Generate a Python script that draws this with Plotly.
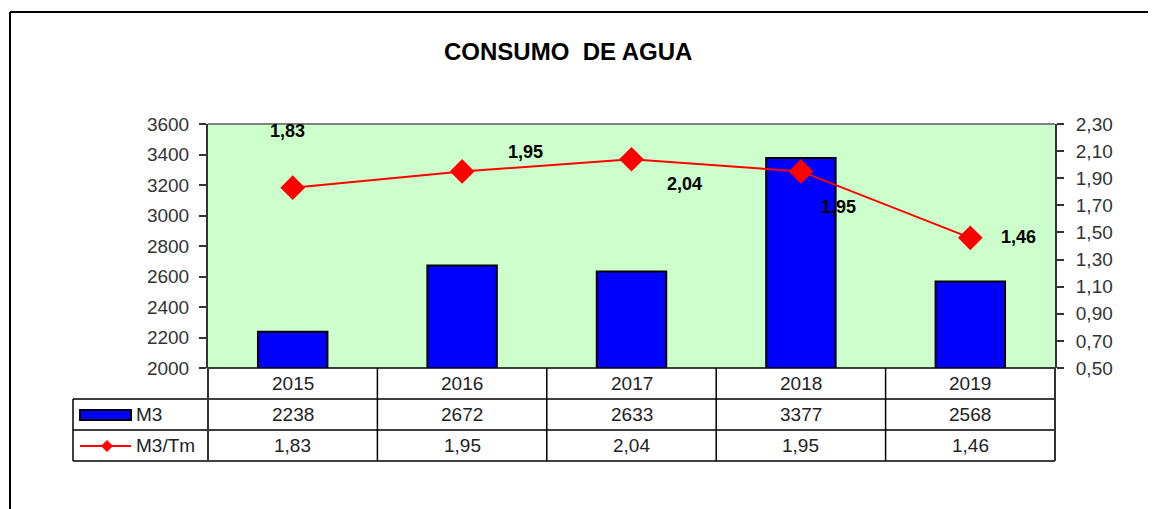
import plotly.graph_objects as go

# ---- data ----
years = ["2015", "2016", "2017", "2018", "2019"]
m3 = [2238, 2672, 2633, 3377, 2568]
m3_tm = [1.83, 1.95, 2.04, 1.95, 1.46]
left_ticks = [2000, 2200, 2400, 2600, 2800, 3000, 3200, 3400, 3600]
right_ticks = [0.5, 0.7, 0.9, 1.1, 1.3, 1.5, 1.7, 1.9, 2.1, 2.3]
series_names = ["M3", "M3/Tm"]
title_text = "CONSUMO\u00a0 DE AGUA"

# ---- layout geometry (page pixels; page body has an 8px margin) ----
OFF = 8
PW, PH = 1156, 509
W, H = PW - OFF, PH - OFF
L, R, T, B = 208, 1055, 124, 368          # plot area in page pixels
ROW = 31
FONT = "Liberation Sans, Arial, sans-serif"


def px(x):
    return (x - L) / (R - L)


def py(y):
    return (B - y) / (B - T)


def fmt(v):
    return f"{v:.2f}".replace(".", ",")


fig = go.Figure()
fig.add_trace(go.Bar(
    x=years, y=m3, name=series_names[0], width=0.41,
    marker=dict(color="#0000FF", line=dict(color="#000000", width=2)),
    yaxis="y",
))
fig.add_trace(go.Scatter(
    x=years, y=m3_tm, name=series_names[1], mode="lines+markers",
    line=dict(color="#FF0000", width=2),
    marker=dict(symbol="diamond", size=19, color="#FF0000"),
    yaxis="y2", cliponaxis=False,
))

shapes = []
line_style = dict(color="#000000", width=1.5)
# outer frame (top and left)
shapes.append(dict(type="line", xref="paper", yref="paper", x0=px(10), x1=px(PW + 20),
                   y0=py(12), y1=py(12), line=dict(color="#000000", width=2)))
shapes.append(dict(type="line", xref="paper", yref="paper", x0=px(10), x1=px(10),
                   y0=py(12), y1=py(PH + 20), line=dict(color="#000000", width=2)))
# plot area top border
shapes.append(dict(type="line", xref="paper", yref="paper", x0=0, x1=1, y0=1, y1=1,
                   line=dict(color="#808080", width=2)))
# table horizontal lines
shapes.append(dict(type="line", xref="paper", yref="paper", x0=0, x1=1, y0=0, y1=0,
                   line=dict(color="#000000", width=1.5)))
for k in (1, 2, 3):
    shapes.append(dict(type="line", xref="paper", yref="paper", x0=px(73), x1=1,
                       y0=py(B + k * ROW), y1=py(B + k * ROW), line=line_style))
# table vertical lines
shapes.append(dict(type="line", xref="paper", yref="paper", x0=px(73), x1=px(73),
                   y0=py(B + ROW), y1=py(B + 3 * ROW), line=line_style))
shapes.append(dict(type="line", xref="paper", yref="paper", x0=0, x1=0,
                   y0=0, y1=py(B + 3 * ROW), line=dict(color="#333333", width=2)))
shapes.append(dict(type="line", xref="paper", yref="paper", x0=1, x1=1,
                   y0=0, y1=py(B + 3 * ROW), line=dict(color="#333333", width=2)))
for i in range(1, len(years)):
    shapes.append(dict(type="line", xref="x", yref="paper", x0=i - 0.5, x1=i - 0.5,
                       y0=0, y1=py(B + 3 * ROW), line=line_style))
# legend keys in table
shapes.append(dict(type="rect", xref="paper", yref="paper", x0=px(80), x1=px(131),
                   y0=py(410), y1=py(420), fillcolor="#0000FF",
                   line=dict(color="#000000", width=2)))
shapes.append(dict(type="line", xref="paper", yref="paper", x0=px(80), x1=px(131),
                   y0=py(446), y1=py(446), line=dict(color="#FF0000", width=2)))
cx, cy, d = 107, 446, 5.5
shapes.append(dict(type="path", xref="paper", yref="paper",
                   path=f"M {px(cx - d)},{py(cy)} L {px(cx)},{py(cy - d)} L {px(cx + d)},{py(cy)} L {px(cx)},{py(cy + d)} Z",
                   fillcolor="#FF0000", line=dict(color="#FF0000", width=1)))

annotations = []
annotations.append(dict(text=f"<b>{title_text}</b>", xref="paper", yref="paper",
                        x=px(568), y=py(52), xanchor="center", yanchor="middle",
                        showarrow=False, font=dict(family=FONT, size=24, color="#000000")))
tfont = dict(family=FONT, size=19, color="#222222")
for i, yr in enumerate(years):
    for row, txt in enumerate([yr, str(m3[i]), fmt(m3_tm[i])]):
        annotations.append(dict(text=txt, xref="x", yref="paper", x=i,
                                y=py(B + (row + 0.5) * ROW), xanchor="center",
                                yanchor="middle", showarrow=False, font=tfont))
for row, name in enumerate(series_names):
    annotations.append(dict(text=name, xref="paper", yref="paper", x=px(134),
                            y=py(B + (row + 1.5) * ROW), xanchor="left", yanchor="middle",
                            showarrow=False, font=tfont))

# data labels (offsets in pixels from each point)
label_offsets = [(-5, 57), (63, 19), (53, -25), (38, -36), (48, 1)]
for i, yr in enumerate(years):
    dx, dy = label_offsets[i]
    annotations.append(dict(text=f"<b>{fmt(m3_tm[i])}</b>", xref="x", yref="y2",
                            x=i, y=m3_tm[i], xshift=dx, yshift=dy, xanchor="center",
                            yanchor="middle", showarrow=False,
                            font=dict(family=FONT, size=18, color="#000000")))

axis_font = dict(family=FONT, size=19, color="#333333")
fig.update_layout(
    width=W, height=H,
    margin=dict(l=L - OFF, r=PW - R, t=T - OFF, b=PH - B, pad=0),
    paper_bgcolor="#FFFFFF", plot_bgcolor="#CCFFCC",
    showlegend=False, separators=",.",
    xaxis=dict(type="category", range=[-0.5, len(years) - 0.5], showticklabels=False,
               ticks="", showgrid=False, zeroline=False, showline=False),
    yaxis=dict(range=[2000, 3600], tickvals=left_ticks, ticks="outside", ticklen=7,
               tickwidth=2, tickcolor="#333333", showline=True, linecolor="#333333",
               linewidth=2, showgrid=False, zeroline=False, tickfont=axis_font,
               ticklabelstandoff=6),
    yaxis2=dict(range=[0.5, 2.3], tickvals=right_ticks, tickformat=".2f", overlaying="y",
                side="right", ticks="outside", ticklen=7, tickwidth=2, tickcolor="#333333",
                showline=True, linecolor="#333333", linewidth=2, showgrid=False,
                zeroline=False, tickfont=axis_font, ticklabelstandoff=8),
    shapes=shapes, annotations=annotations,
)

fig.write_html("out.html")
